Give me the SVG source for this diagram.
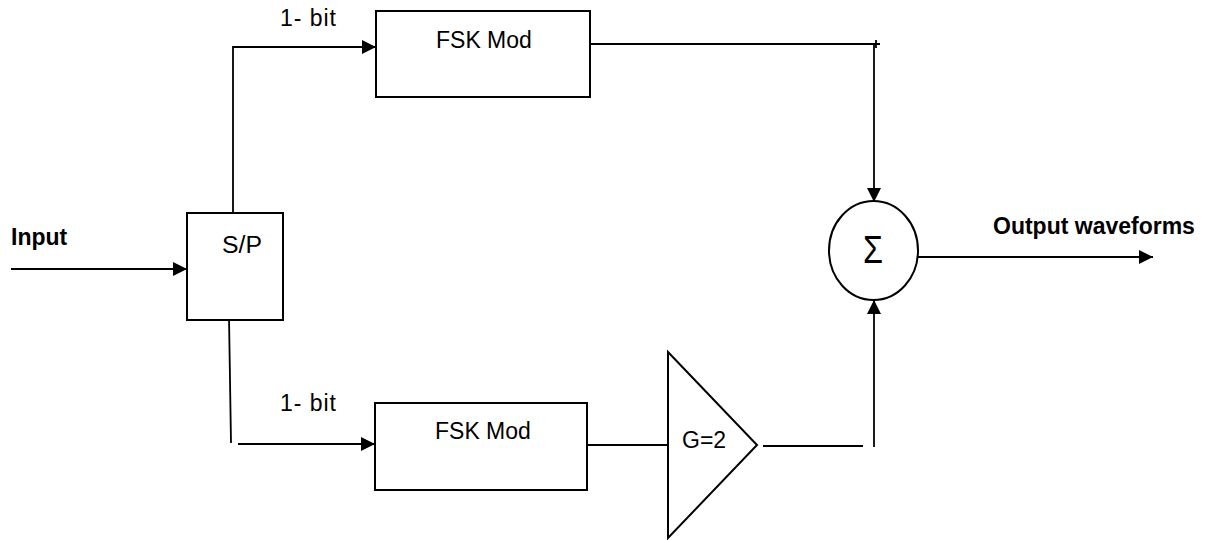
<svg xmlns="http://www.w3.org/2000/svg" width="1212" height="540" viewBox="0 0 1212 540">
<style>
.box{fill:#fff;stroke:#000;stroke-width:2}
.ln{fill:none;stroke:#000;stroke-width:1.8}
.t{font-family:"Liberation Sans",Arial,sans-serif;font-size:23px;fill:#000}
.b{font-family:"Liberation Sans",Arial,sans-serif;font-size:23px;font-weight:bold;fill:#000}
</style>
<defs>
<marker id="ah" viewBox="0 0 14 14" refX="14" refY="7" markerWidth="14" markerHeight="14" markerUnits="userSpaceOnUse" orient="auto">
<path d="M0,0 L14,7 L0,14 Z" fill="#000"/>
</marker>
</defs>
<rect width="1212" height="540" fill="#fff"/>
<g id="connectors">
<line class="ln" x1="11" y1="269" x2="187" y2="269" marker-end="url(#ah)"/>
<polyline class="ln" points="233,213 233,47 376,47" marker-end="url(#ah)"/>
<line class="ln" x1="229" y1="317" x2="231" y2="443"/>
<line class="ln" x1="238" y1="444" x2="375" y2="444" marker-end="url(#ah)"/>
<line class="ln" x1="590" y1="44" x2="880" y2="44"/>
<line class="ln" x1="876" y1="40" x2="876" y2="48"/>
<line class="ln" x1="874" y1="44" x2="874" y2="202" marker-end="url(#ah)"/>
<line class="ln" x1="580" y1="445" x2="668" y2="445"/>
<line class="ln" x1="763" y1="446" x2="863" y2="446"/>
<line class="ln" x1="874" y1="447" x2="874" y2="300" marker-end="url(#ah)"/>
<line class="ln" x1="918" y1="257" x2="1153" y2="257" marker-end="url(#ah)"/>
</g>
<g id="input-label"><text class="b" x="11" y="245">Input</text></g>
<g id="sp"><rect class="box" x="187" y="213" width="96" height="107"/><text class="t" x="222" y="253" textLength="40" lengthAdjust="spacingAndGlyphs">S/P</text></g>
<g id="fsk1"><rect class="box" x="376" y="11" width="214" height="86"/><text class="t" x="436" y="48">FSK Mod</text></g>
<g id="bit1"><text class="t" x="280" y="26" textLength="56">1- bit</text></g>
<g id="fsk2"><rect class="box" x="375" y="403" width="212" height="87"/><text class="t" x="435" y="439">FSK Mod</text></g>
<g id="bit2"><text class="t" x="280" y="411" textLength="56">1- bit</text></g>
<g id="gain"><polygon class="box" points="668,352 757,445 668,538"/><text class="t" x="682" y="448">G=2</text></g>
<g id="sum"><ellipse class="box" cx="873.5" cy="250.5" rx="44.5" ry="49.5"/><text class="t" x="863" y="263" textLength="20" lengthAdjust="spacingAndGlyphs" style="font-size:38px;font-weight:300">Σ</text></g>
<g id="output-label"><text class="b" x="993" y="234">Output waveforms</text></g>
</svg>
